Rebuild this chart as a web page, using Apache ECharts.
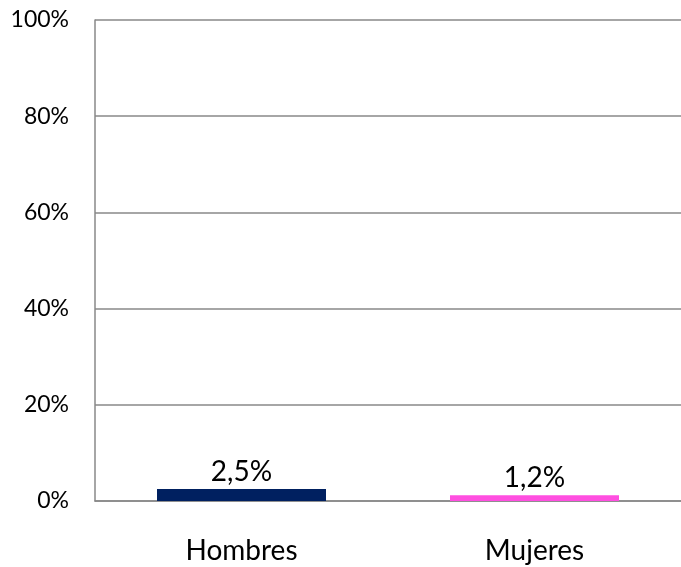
<!DOCTYPE html>
<html>
<head>
<meta charset="utf-8">
<script src="https://cdn.jsdelivr.net/npm/echarts@6/dist/echarts.min.js"></script>
<style>
  html, body { margin: 0; padding: 0; background: #fff; }
  #chart { width: 681px; height: 567px; }
</style>
</head>
<body>
<div id="chart"></div>
<script>
// Share by sex (percent)
const categories = ['Hombres', 'Mujeres'];
const values = [2.5, 1.2];
const barColors = ['#002060', '#FF4FE0'];
const yTicks = [0, 20, 40, 60, 80, 100];

const fontFamily = 'Lato, "Open Sans", sans-serif';

const chart = echarts.init(document.getElementById('chart'), null, { renderer: 'canvas' });
chart.setOption({
  animation: false,
  grid: { left: 95, right: 0, top: 20, bottom: 66 },
  xAxis: {
    type: 'category',
    data: categories,
    axisLine: { show: true, lineStyle: { color: '#888888', width: 1.5 } },
    axisTick: { show: false },
    axisLabel: { color: '#000', fontSize: 28, fontFamily, margin: 36 }
  },
  yAxis: {
    type: 'value',
    min: yTicks[0],
    max: yTicks[yTicks.length - 1],
    interval: 20,
    axisLine: { show: true, lineStyle: { color: '#888888', width: 1.5 } },
    axisTick: { show: false },
    splitLine: { show: true, lineStyle: { color: '#888888', width: 1.5 } },
    axisLabel: {
      color: '#000', fontSize: 23, fontFamily, margin: 26,
      formatter: v => v + '%'
    }
  },
  series: [{
    type: 'bar',
    data: values.map((v, i) => ({ value: v, itemStyle: { color: barColors[i] } })),
    barWidth: 169,
    label: {
      show: true,
      position: 'top',
      distance: 3,
      color: '#000',
      fontSize: 28,
      fontFamily,
      formatter: p => String(p.value).replace('.', ',') + '%'
    }
  }]
});
</script>
</body>
</html>
